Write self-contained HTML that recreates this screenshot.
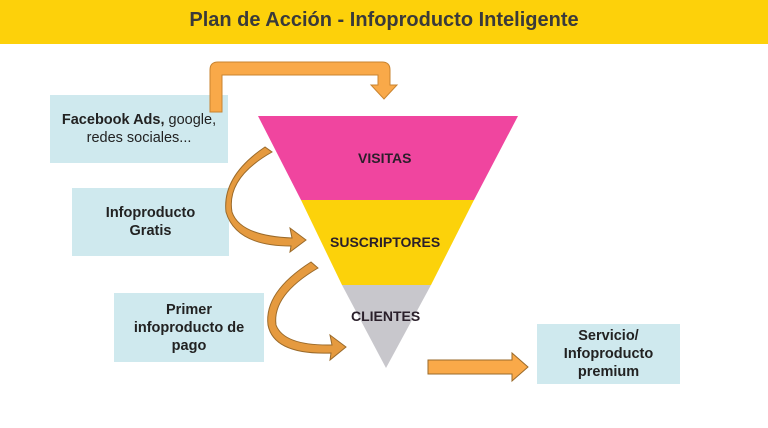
<!DOCTYPE html>
<html><head><style>
body{margin:0;width:768px;height:428px;background:#fff;position:relative;overflow:hidden;font-family:"Liberation Sans",sans-serif}
.hdr{position:absolute;left:0;top:0;width:768px;height:44px;background:#fdd10a;text-align:center;font-size:20px;font-weight:bold;color:#3a3a3a;line-height:40px}
.box{position:absolute;background:#cfe9ee;color:#222;font-size:14.5px;text-align:center;display:flex;align-items:center;justify-content:center;line-height:18px}
.lbl{position:absolute;font-weight:bold;font-size:14px;color:#2a1f2a}
</style></head><body>
<div class="hdr">Plan de Acción - Infoproducto Inteligente</div>
<div class="box" style="left:50px;top:95px;width:178px;height:68px"><div><b>Facebook Ads,</b> google,<br>redes sociales...</div></div>
<div class="box" style="left:72px;top:188px;width:157px;height:68px"><b>Infoproducto<br>Gratis</b></div>
<div class="box" style="left:114px;top:293px;width:150px;height:69px"><b>Primer<br>infoproducto de<br>pago</b></div>
<div class="box" style="left:537px;top:324px;width:143px;height:60px"><b>Servicio/<br>Infoproducto<br>premium</b></div>
<svg width="768" height="428" style="position:absolute;left:0;top:0">
<polygon points="258,116 518,116 474,200 301,200" fill="#f0459f"/>
<polygon points="301,200 474,200 431,285 342,285" fill="#fcd20a"/>
<polygon points="342,285 431,285 386,368" fill="#c8c7cc"/>
<path d="M210,112 V70 Q210,62 218,62 H382 Q390,62 390,70 V85 H397 L384,99 L371,85 H378 V75 H222 V112 Z" fill="#f9a949" stroke="#c98430" stroke-width="1"/>
<path d="M272,152 Q226,178 232,212 Q240,236 292,238 L290,228 L306,240 L290,252 L291,246 Q236,246 226,212 Q222,176 265,147 Z" fill="#e59a3f" stroke="#9a6a2a" stroke-width="1"/>
<path d="M318,268 Q272,295 276,325 Q284,346 332,345 L330,335 L346,347 L330,360 L331,353 Q274,355 268,325 Q264,292 311,262 Z" fill="#e59a3f" stroke="#9a6a2a" stroke-width="1"/>
<path d="M428,360 H512 V353 L528,367 L512,381 V374 H428 Z" fill="#f9a949" stroke="#9a6a2a" stroke-width="1"/>
</svg>
<div class="lbl" style="left:358px;top:150px">VISITAS</div>
<div class="lbl" style="left:330px;top:234px">SUSCRIPTORES</div>
<div class="lbl" style="left:351px;top:308px">CLIENTES</div>
</body></html>
